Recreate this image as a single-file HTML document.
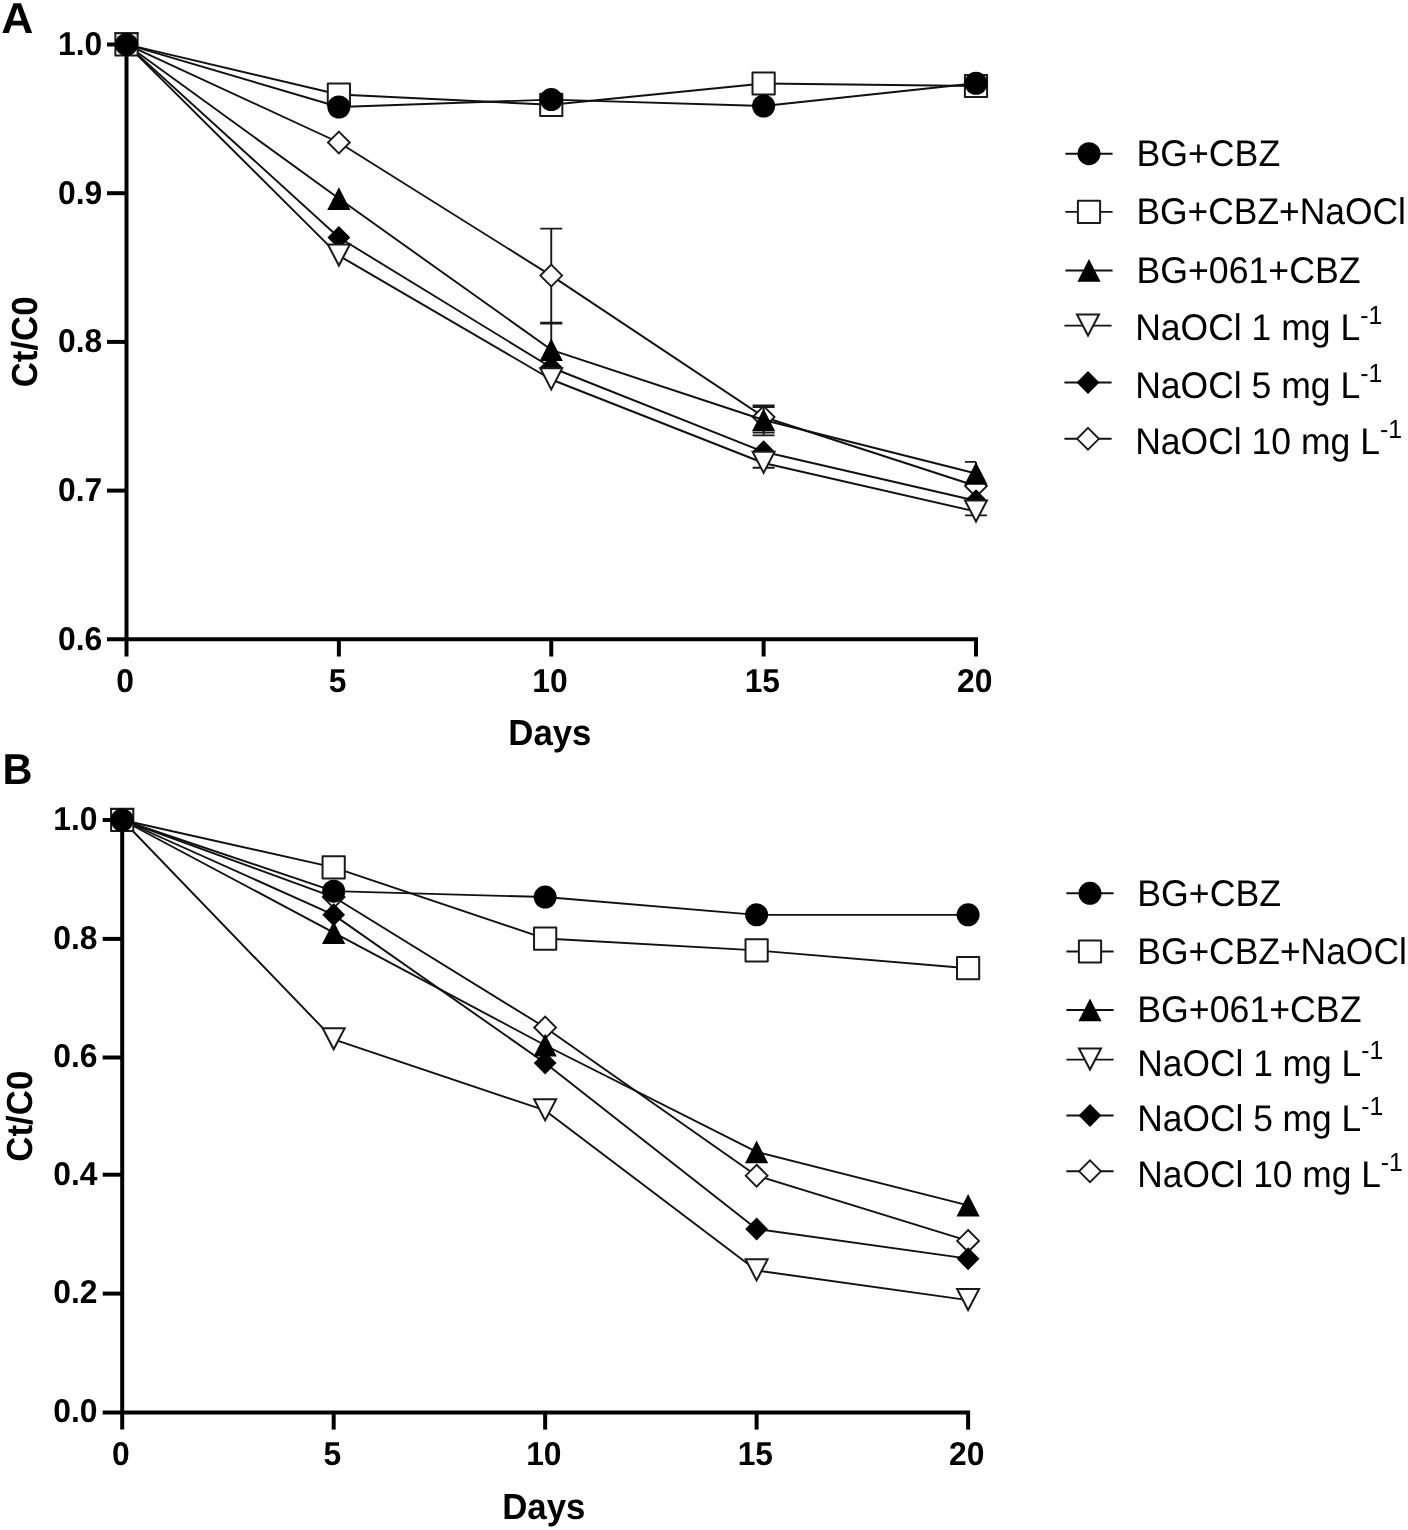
<!DOCTYPE html>
<html lang="en">
<head>
<meta charset="utf-8">
<title>Ct/C0 versus Days</title>
<style>
html,body{margin:0;padding:0;background:#fff;}
body{width:1408px;height:1530px;overflow:hidden;}
svg{display:block;will-change:transform;}
svg text{font-family:"Liberation Sans", sans-serif;fill:#000;text-rendering:geometricPrecision;}
</style>
</head>
<body>
<svg width="1408" height="1530" viewBox="0 0 1408 1530">
<rect x="0" y="0" width="1408" height="1530" fill="#fff"/>
<g>
<text transform="translate(1.20,33.00) scale(1.0700,1.0400)" font-size="41.5" font-weight="700">A</text>
<g stroke="#000" stroke-width="4.0" fill="none" stroke-linecap="butt">
<line x1="126.5" y1="42.50" x2="126.5" y2="656.50"/>
<line x1="107.00" y1="639.3" x2="978.00" y2="639.3"/>
<line x1="107.00" y1="44.50" x2="126.5" y2="44.50"/>
<line x1="107.00" y1="193.20" x2="126.5" y2="193.20"/>
<line x1="107.00" y1="341.90" x2="126.5" y2="341.90"/>
<line x1="107.00" y1="490.60" x2="126.5" y2="490.60"/>
<line x1="338.88" y1="639.3" x2="338.88" y2="656.50"/>
<line x1="551.25" y1="639.3" x2="551.25" y2="656.50"/>
<line x1="763.62" y1="639.3" x2="763.62" y2="656.50"/>
<line x1="976.00" y1="639.3" x2="976.00" y2="656.50"/>
</g>
<text transform="translate(102.20,54.90) scale(1.0000,1.0400)" font-size="31.8" font-weight="700" text-anchor="end">1.0</text>
<text transform="translate(102.20,203.60) scale(1.0000,1.0400)" font-size="31.8" font-weight="700" text-anchor="end">0.9</text>
<text transform="translate(102.20,352.30) scale(1.0000,1.0400)" font-size="31.8" font-weight="700" text-anchor="end">0.8</text>
<text transform="translate(102.20,501.00) scale(1.0000,1.0400)" font-size="31.8" font-weight="700" text-anchor="end">0.7</text>
<text transform="translate(102.20,649.70) scale(1.0000,1.0400)" font-size="31.8" font-weight="700" text-anchor="end">0.6</text>
<text transform="translate(125.20,691.60) scale(1.0000,1.0400)" font-size="31.8" font-weight="700" text-anchor="middle">0</text>
<text transform="translate(337.57,691.60) scale(1.0000,1.0400)" font-size="31.8" font-weight="700" text-anchor="middle">5</text>
<text transform="translate(549.95,691.60) scale(1.0000,1.0400)" font-size="31.8" font-weight="700" text-anchor="middle">10</text>
<text transform="translate(762.33,691.60) scale(1.0000,1.0400)" font-size="31.8" font-weight="700" text-anchor="middle">15</text>
<text transform="translate(974.70,691.60) scale(1.0000,1.0400)" font-size="31.8" font-weight="700" text-anchor="middle">20</text>
<text transform="translate(549.85,745.40) scale(1.0000,1.0400)" font-size="34.8" font-weight="700" text-anchor="middle">Days</text>
<text transform="translate(37.00,341.90) rotate(-90) scale(1.0000,1.0400)" font-size="34.8" font-weight="700" text-anchor="middle">Ct/C0</text>
<g>
<path d="M551.25,228.60V322.60M540.25,228.60H562.25M540.25,322.60H562.25" stroke="#1a1a1a" stroke-width="1.9" fill="none"/>
<path d="M763.62,405.50V435.40M752.62,405.50H774.62M752.62,435.40H774.62" stroke="#1a1a1a" stroke-width="1.9" fill="none"/>
<polyline points="126.50,44.40 338.88,142.50 551.25,275.60 763.62,417.00 976.00,486.00" fill="none" stroke="#111" stroke-width="1.9" stroke-linejoin="round"/>
<polygon points="126.50,33.50 137.40,44.40 126.50,55.30 115.60,44.40" fill="#fff" stroke="#1a1a1a" stroke-width="1.9"/>
<polygon points="338.88,131.60 349.77,142.50 338.88,153.40 327.98,142.50" fill="#fff" stroke="#1a1a1a" stroke-width="1.9"/>
<polygon points="551.25,264.70 562.15,275.60 551.25,286.50 540.35,275.60" fill="#fff" stroke="#1a1a1a" stroke-width="1.9"/>
<polygon points="763.62,406.10 774.52,417.00 763.62,427.90 752.73,417.00" fill="#fff" stroke="#1a1a1a" stroke-width="1.9"/>
<polygon points="976.00,475.10 986.90,486.00 976.00,496.90 965.10,486.00" fill="#fff" stroke="#1a1a1a" stroke-width="1.9"/>
</g>
<g>
<polyline points="126.50,44.40 338.88,237.50 551.25,367.50 763.62,451.80 976.00,500.70" fill="none" stroke="#111" stroke-width="1.9" stroke-linejoin="round"/>
<polygon points="126.50,32.90 137.90,44.40 126.50,55.90 115.10,44.40" fill="#000"/>
<polygon points="338.88,226.00 350.27,237.50 338.88,249.00 327.48,237.50" fill="#000"/>
<polygon points="551.25,356.00 562.65,367.50 551.25,379.00 539.85,367.50" fill="#000"/>
<polygon points="763.62,440.30 775.02,451.80 763.62,463.30 752.23,451.80" fill="#000"/>
<polygon points="976.00,489.20 987.40,500.70 976.00,512.20 964.60,500.70" fill="#000"/>
</g>
<g>
<path d="M763.62,463.00V467.80M752.62,467.80H774.62" stroke="#1a1a1a" stroke-width="1.9" fill="none"/>
<path d="M976.00,511.60V515.40M965.00,515.40H987.00" stroke="#1a1a1a" stroke-width="1.9" fill="none"/>
<polyline points="126.50,44.40 338.88,255.60 551.25,379.50 763.62,463.00 976.00,511.60" fill="none" stroke="#111" stroke-width="1.9" stroke-linejoin="round"/>
<polygon points="115.50,33.20 137.50,33.20 126.50,54.30" fill="#fff" stroke="#1a1a1a" stroke-width="2" stroke-linejoin="miter"/>
<polygon points="327.88,244.40 349.88,244.40 338.88,265.50" fill="#fff" stroke="#1a1a1a" stroke-width="2" stroke-linejoin="miter"/>
<polygon points="540.25,368.30 562.25,368.30 551.25,389.40" fill="#fff" stroke="#1a1a1a" stroke-width="2" stroke-linejoin="miter"/>
<polygon points="752.62,451.80 774.62,451.80 763.62,472.90" fill="#fff" stroke="#1a1a1a" stroke-width="2" stroke-linejoin="miter"/>
<polygon points="965.00,500.40 987.00,500.40 976.00,521.50" fill="#fff" stroke="#1a1a1a" stroke-width="2" stroke-linejoin="miter"/>
</g>
<g>
<path d="M551.25,323.60V349.80M540.25,323.60H562.25" stroke="#1a1a1a" stroke-width="1.9" fill="none"/>
<path d="M763.62,407.00V432.60M752.62,407.00H774.62M752.62,432.60H774.62" stroke="#1a1a1a" stroke-width="1.9" fill="none"/>
<path d="M976.00,461.90V473.50M965.00,461.90H976.00" stroke="#1a1a1a" stroke-width="1.9" fill="none"/>
<polyline points="126.50,44.40 338.88,198.60 551.25,349.80 763.62,420.00 976.00,473.50" fill="none" stroke="#111" stroke-width="1.9" stroke-linejoin="round"/>
<polygon points="126.50,33.00 138.10,55.70 114.90,55.70" fill="#000"/>
<polygon points="338.88,187.20 350.48,209.90 327.27,209.90" fill="#000"/>
<polygon points="551.25,338.40 562.85,361.10 539.65,361.10" fill="#000"/>
<polygon points="763.62,408.60 775.23,431.30 752.02,431.30" fill="#000"/>
<polygon points="976.00,462.10 987.60,484.80 964.40,484.80" fill="#000"/>
</g>
<g>
<polyline points="126.50,44.40 338.88,94.50 551.25,104.80 763.62,83.50 976.00,86.00" fill="none" stroke="#111" stroke-width="1.9" stroke-linejoin="round"/>
<rect x="115.40" y="33.30" width="22.20" height="22.20" fill="#fff" stroke="#1a1a1a" stroke-width="2" stroke-linejoin="round"/>
<rect x="327.77" y="83.40" width="22.20" height="22.20" fill="#fff" stroke="#1a1a1a" stroke-width="2" stroke-linejoin="round"/>
<rect x="540.15" y="93.70" width="22.20" height="22.20" fill="#fff" stroke="#1a1a1a" stroke-width="2" stroke-linejoin="round"/>
<rect x="752.52" y="72.40" width="22.20" height="22.20" fill="#fff" stroke="#1a1a1a" stroke-width="2" stroke-linejoin="round"/>
<rect x="964.90" y="74.90" width="22.20" height="22.20" fill="#fff" stroke="#1a1a1a" stroke-width="2" stroke-linejoin="round"/>
</g>
<g>
<polyline points="126.50,44.40 338.88,107.00 551.25,99.60 763.62,106.00 976.00,83.30" fill="none" stroke="#111" stroke-width="1.9" stroke-linejoin="round"/>
<circle cx="126.50" cy="44.40" r="11.5" fill="#000"/>
<circle cx="338.88" cy="107.00" r="11.5" fill="#000"/>
<circle cx="551.25" cy="99.60" r="11.5" fill="#000"/>
<circle cx="763.62" cy="106.00" r="11.5" fill="#000"/>
<circle cx="976.00" cy="83.30" r="11.5" fill="#000"/>
</g>
</g>
<g>
<line x1="1065.40" y1="153.7" x2="1112.60" y2="153.7" stroke="#111" stroke-width="1.90"/>
<circle cx="1089.00" cy="153.70" r="11.5" fill="#000"/>
<text transform="translate(1136.40,165.80) scale(1.0000,1.0400)" font-size="35.7">BG+CBZ</text>
<line x1="1065.40" y1="211.9" x2="1112.60" y2="211.9" stroke="#111" stroke-width="1.90"/>
<rect x="1077.90" y="200.80" width="22.20" height="22.20" fill="#fff" stroke="#1a1a1a" stroke-width="2" stroke-linejoin="round"/>
<text transform="translate(1136.40,223.80) scale(0.9920,1.0400)" font-size="35.7">BG+CBZ+NaOCl</text>
<line x1="1065.40" y1="270.5" x2="1112.60" y2="270.5" stroke="#111" stroke-width="1.90"/>
<polygon points="1089.00,259.10 1100.60,281.80 1077.40,281.80" fill="#000"/>
<text transform="translate(1136.40,282.50) scale(1.0000,1.0400)" font-size="35.7">BG+061+CBZ</text>
<line x1="1064.40" y1="325.6" x2="1111.60" y2="325.6" stroke="#111" stroke-width="1.90"/>
<polygon points="1077.00,314.40 1099.00,314.40 1088.00,335.50" fill="#fff" stroke="#1a1a1a" stroke-width="2" stroke-linejoin="miter"/>
<text transform="translate(1135.20,340.40) scale(0.9950,1.0400)" font-size="35.7">NaOCl 1 mg L<tspan dy="-15.67" font-size="25.0">-1</tspan></text>
<line x1="1064.40" y1="382.5" x2="1111.60" y2="382.5" stroke="#111" stroke-width="1.90"/>
<polygon points="1088.00,371.00 1099.40,382.50 1088.00,394.00 1076.60,382.50" fill="#000"/>
<text transform="translate(1135.20,397.90) scale(0.9950,1.0400)" font-size="35.7">NaOCl 5 mg L<tspan dy="-15.67" font-size="25.0">-1</tspan></text>
<line x1="1064.40" y1="438.8" x2="1111.60" y2="438.8" stroke="#111" stroke-width="1.90"/>
<polygon points="1088.00,427.90 1098.90,438.80 1088.00,449.70 1077.10,438.80" fill="#fff" stroke="#1a1a1a" stroke-width="1.9"/>
<text transform="translate(1135.20,454.20) scale(0.9950,1.0400)" font-size="35.7">NaOCl 10 mg L<tspan dy="-15.67" font-size="25.0">-1</tspan></text>
</g>
<g>
<text transform="translate(2.50,784.00) scale(1.0000,1.0400)" font-size="41.5" font-weight="700">B</text>
<g stroke="#000" stroke-width="4.0" fill="none" stroke-linecap="butt">
<line x1="122.2" y1="818.00" x2="122.2" y2="1429.60"/>
<line x1="102.70" y1="1412.4" x2="970.10" y2="1412.4"/>
<line x1="102.70" y1="820.00" x2="122.2" y2="820.00"/>
<line x1="102.70" y1="938.90" x2="122.2" y2="938.90"/>
<line x1="102.70" y1="1057.50" x2="122.2" y2="1057.50"/>
<line x1="102.70" y1="1174.70" x2="122.2" y2="1174.70"/>
<line x1="102.70" y1="1293.60" x2="122.2" y2="1293.60"/>
<line x1="333.68" y1="1412.4" x2="333.68" y2="1429.60"/>
<line x1="545.15" y1="1412.4" x2="545.15" y2="1429.60"/>
<line x1="756.62" y1="1412.4" x2="756.62" y2="1429.60"/>
<line x1="968.10" y1="1412.4" x2="968.10" y2="1429.60"/>
</g>
<text transform="translate(97.50,829.80) scale(1.0000,1.0400)" font-size="31.8" font-weight="700" text-anchor="end">1.0</text>
<text transform="translate(97.50,948.70) scale(1.0000,1.0400)" font-size="31.8" font-weight="700" text-anchor="end">0.8</text>
<text transform="translate(97.50,1067.30) scale(1.0000,1.0400)" font-size="31.8" font-weight="700" text-anchor="end">0.6</text>
<text transform="translate(97.50,1184.50) scale(1.0000,1.0400)" font-size="31.8" font-weight="700" text-anchor="end">0.4</text>
<text transform="translate(97.50,1303.40) scale(1.0000,1.0400)" font-size="31.8" font-weight="700" text-anchor="end">0.2</text>
<text transform="translate(97.50,1422.20) scale(1.0000,1.0400)" font-size="31.8" font-weight="700" text-anchor="end">0.0</text>
<text transform="translate(120.90,1465.00) scale(1.0000,1.0400)" font-size="31.8" font-weight="700" text-anchor="middle">0</text>
<text transform="translate(332.38,1465.00) scale(1.0000,1.0400)" font-size="31.8" font-weight="700" text-anchor="middle">5</text>
<text transform="translate(543.85,1465.00) scale(1.0000,1.0400)" font-size="31.8" font-weight="700" text-anchor="middle">10</text>
<text transform="translate(755.33,1465.00) scale(1.0000,1.0400)" font-size="31.8" font-weight="700" text-anchor="middle">15</text>
<text transform="translate(966.80,1465.00) scale(1.0000,1.0400)" font-size="31.8" font-weight="700" text-anchor="middle">20</text>
<text transform="translate(543.75,1518.70) scale(1.0000,1.0400)" font-size="34.8" font-weight="700" text-anchor="middle">Days</text>
<text transform="translate(32.30,1116.20) rotate(-90) scale(1.0000,1.0400)" font-size="34.8" font-weight="700" text-anchor="middle">Ct/C0</text>
<g>
<polyline points="122.20,820.00 333.68,897.06 545.15,1027.48 756.62,1175.68 968.10,1240.89" fill="none" stroke="#111" stroke-width="1.9" stroke-linejoin="round"/>
<polygon points="122.20,809.10 133.10,820.00 122.20,830.90 111.30,820.00" fill="#fff" stroke="#1a1a1a" stroke-width="1.9"/>
<polygon points="333.68,886.16 344.57,897.06 333.68,907.96 322.78,897.06" fill="#fff" stroke="#1a1a1a" stroke-width="1.9"/>
<polygon points="545.15,1016.58 556.05,1027.48 545.15,1038.38 534.25,1027.48" fill="#fff" stroke="#1a1a1a" stroke-width="1.9"/>
<polygon points="756.62,1164.78 767.52,1175.68 756.62,1186.58 745.73,1175.68" fill="#fff" stroke="#1a1a1a" stroke-width="1.9"/>
<polygon points="968.10,1229.99 979.00,1240.89 968.10,1251.79 957.20,1240.89" fill="#fff" stroke="#1a1a1a" stroke-width="1.9"/>
</g>
<g>
<polyline points="122.20,820.00 333.68,914.85 545.15,1063.05 756.62,1229.03 968.10,1258.67" fill="none" stroke="#111" stroke-width="1.9" stroke-linejoin="round"/>
<polygon points="122.20,808.50 133.60,820.00 122.20,831.50 110.80,820.00" fill="#000"/>
<polygon points="333.68,903.35 345.07,914.85 333.68,926.35 322.28,914.85" fill="#000"/>
<polygon points="545.15,1051.55 556.55,1063.05 545.15,1074.55 533.75,1063.05" fill="#000"/>
<polygon points="756.62,1217.53 768.02,1229.03 756.62,1240.53 745.23,1229.03" fill="#000"/>
<polygon points="968.10,1247.17 979.50,1258.67 968.10,1270.17 956.70,1258.67" fill="#000"/>
</g>
<g>
<polyline points="122.20,820.00 333.68,1039.34 545.15,1110.47 756.62,1270.53 968.10,1300.17" fill="none" stroke="#111" stroke-width="1.9" stroke-linejoin="round"/>
<polygon points="111.20,808.80 133.20,808.80 122.20,829.90" fill="#fff" stroke="#1a1a1a" stroke-width="2" stroke-linejoin="miter"/>
<polygon points="322.68,1028.14 344.68,1028.14 333.68,1049.24" fill="#fff" stroke="#1a1a1a" stroke-width="2" stroke-linejoin="miter"/>
<polygon points="534.15,1099.27 556.15,1099.27 545.15,1120.37" fill="#fff" stroke="#1a1a1a" stroke-width="2" stroke-linejoin="miter"/>
<polygon points="745.62,1259.33 767.62,1259.33 756.62,1280.43" fill="#fff" stroke="#1a1a1a" stroke-width="2" stroke-linejoin="miter"/>
<polygon points="957.10,1288.97 979.10,1288.97 968.10,1310.07" fill="#fff" stroke="#1a1a1a" stroke-width="2" stroke-linejoin="miter"/>
</g>
<g>
<polyline points="122.20,820.00 333.68,932.63 545.15,1045.26 756.62,1151.97 968.10,1205.32" fill="none" stroke="#111" stroke-width="1.9" stroke-linejoin="round"/>
<polygon points="122.20,808.60 133.80,831.30 110.60,831.30" fill="#000"/>
<polygon points="333.68,921.23 345.28,943.93 322.07,943.93" fill="#000"/>
<polygon points="545.15,1033.86 556.75,1056.56 533.55,1056.56" fill="#000"/>
<polygon points="756.62,1140.57 768.23,1163.27 745.02,1163.27" fill="#000"/>
<polygon points="968.10,1193.92 979.70,1216.62 956.50,1216.62" fill="#000"/>
</g>
<g>
<polyline points="122.20,820.00 333.68,867.42 545.15,938.56 756.62,950.42 968.10,968.20" fill="none" stroke="#111" stroke-width="1.9" stroke-linejoin="round"/>
<rect x="111.10" y="808.90" width="22.20" height="22.20" fill="#fff" stroke="#1a1a1a" stroke-width="2" stroke-linejoin="round"/>
<rect x="322.57" y="856.32" width="22.20" height="22.20" fill="#fff" stroke="#1a1a1a" stroke-width="2" stroke-linejoin="round"/>
<rect x="534.05" y="927.46" width="22.20" height="22.20" fill="#fff" stroke="#1a1a1a" stroke-width="2" stroke-linejoin="round"/>
<rect x="745.52" y="939.32" width="22.20" height="22.20" fill="#fff" stroke="#1a1a1a" stroke-width="2" stroke-linejoin="round"/>
<rect x="957.00" y="957.10" width="22.20" height="22.20" fill="#fff" stroke="#1a1a1a" stroke-width="2" stroke-linejoin="round"/>
</g>
<g>
<polyline points="122.20,820.00 333.68,891.14 545.15,897.06 756.62,914.85 968.10,914.85" fill="none" stroke="#111" stroke-width="1.9" stroke-linejoin="round"/>
<circle cx="122.20" cy="820.00" r="11.5" fill="#000"/>
<circle cx="333.68" cy="891.14" r="11.5" fill="#000"/>
<circle cx="545.15" cy="897.06" r="11.5" fill="#000"/>
<circle cx="756.62" cy="914.85" r="11.5" fill="#000"/>
<circle cx="968.10" cy="914.85" r="11.5" fill="#000"/>
</g>
</g>
<g>
<line x1="1066.40" y1="893.3" x2="1113.60" y2="893.3" stroke="#111" stroke-width="1.90"/>
<circle cx="1090.00" cy="893.30" r="11.5" fill="#000"/>
<text transform="translate(1137.30,905.90) scale(1.0000,1.0400)" font-size="35.7">BG+CBZ</text>
<line x1="1066.40" y1="951.5" x2="1113.60" y2="951.5" stroke="#111" stroke-width="1.90"/>
<rect x="1078.90" y="940.40" width="22.20" height="22.20" fill="#fff" stroke="#1a1a1a" stroke-width="2" stroke-linejoin="round"/>
<text transform="translate(1137.30,963.80) scale(0.9920,1.0400)" font-size="35.7">BG+CBZ+NaOCl</text>
<line x1="1066.40" y1="1010.0" x2="1113.60" y2="1010.0" stroke="#111" stroke-width="1.90"/>
<polygon points="1090.00,998.60 1101.60,1021.30 1078.40,1021.30" fill="#000"/>
<text transform="translate(1137.30,1021.90) scale(1.0000,1.0400)" font-size="35.7">BG+061+CBZ</text>
<line x1="1066.40" y1="1059.6" x2="1113.60" y2="1059.6" stroke="#111" stroke-width="1.90"/>
<polygon points="1079.00,1048.40 1101.00,1048.40 1090.00,1069.50" fill="#fff" stroke="#1a1a1a" stroke-width="2" stroke-linejoin="miter"/>
<text transform="translate(1137.30,1075.60) scale(0.9900,1.0400)" font-size="35.7">NaOCl 1 mg L<tspan dy="-15.67" font-size="25.0">-1</tspan></text>
<line x1="1066.40" y1="1115.5" x2="1113.60" y2="1115.5" stroke="#111" stroke-width="1.90"/>
<polygon points="1090.00,1104.00 1101.40,1115.50 1090.00,1127.00 1078.60,1115.50" fill="#000"/>
<text transform="translate(1137.30,1131.30) scale(0.9900,1.0400)" font-size="35.7">NaOCl 5 mg L<tspan dy="-15.67" font-size="25.0">-1</tspan></text>
<line x1="1066.40" y1="1171.3" x2="1113.60" y2="1171.3" stroke="#111" stroke-width="1.90"/>
<polygon points="1090.00,1160.40 1100.90,1171.30 1090.00,1182.20 1079.10,1171.30" fill="#fff" stroke="#1a1a1a" stroke-width="1.9"/>
<text transform="translate(1137.30,1187.10) scale(0.9900,1.0400)" font-size="35.7">NaOCl 10 mg L<tspan dy="-15.67" font-size="25.0">-1</tspan></text>
</g>
</svg>
</body>
</html>
